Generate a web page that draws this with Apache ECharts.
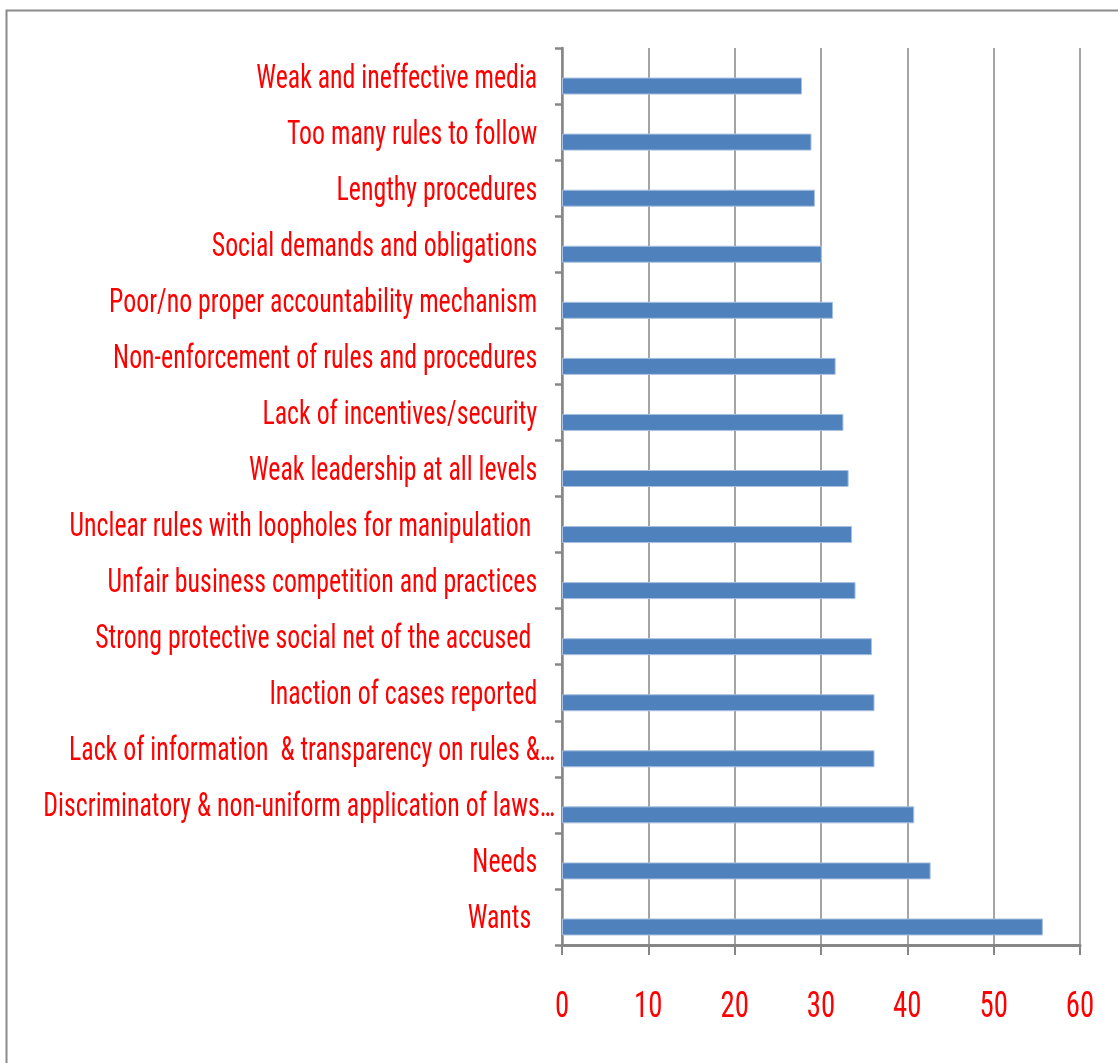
<!DOCTYPE html>
<html>
<head>
<meta charset="utf-8">
<script src="https://cdn.jsdelivr.net/npm/echarts@6/dist/echarts.min.js"></script>
<style>
html,body{margin:0;padding:0;background:#fff;}
#chart{width:1118px;height:1063px;}
</style>
</head>
<body>
<div id="chart"></div>
<script>
var categories = [
  'Weak and ineffective media   ',
  'Too many rules to follow   ',
  'Lengthy procedures   ',
  'Social demands and obligations   ',
  'Poor/no proper accountability mechanism   ',
  'Non-enforcement of rules and procedures   ',
  'Lack of incentives/security   ',
  'Weak leadership at all levels   ',
  'Unclear rules with loopholes for manipulation    ',
  'Unfair business competition and practices   ',
  'Strong protective social net of the accused    ',
  'Inaction of cases reported   ',
  'Lack of information  & transparency on rules &\u2026',
  'Discriminatory & non-uniform application of laws\u2026',
  'Needs   ',
  'Wants    '
];
var values = [27.8, 28.9, 29.3, 30.1, 31.4, 31.7, 32.6, 33.2, 33.6, 34.0, 35.9, 36.2, 36.2, 40.8, 42.7, 55.7];
var xTicks = [0, 10, 20, 30, 40, 50, 60];

var FONT = '"Liberation Sans Narrow", "Arial Narrow", "Roboto Condensed", "Liberation Sans", sans-serif';
var chart = echarts.init(document.getElementById('chart'));
var gray = '#868686';

chart.setOption({
  animation: false,
  backgroundColor: '#ffffff',
  graphic: [{
    type: 'rect', left: 4, top: 8, silent: true,
    shape: {width: 1300, height: 1300},
    style: {fill: 'none', stroke: '#8a8a8a', lineWidth: 2}
  }],
  grid: {left: 562, right: 38, top: 48, bottom: 118, containLabel: false},
  xAxis: {
    type: 'value', min: xTicks[0], max: xTicks[xTicks.length - 1], interval: 10,
    axisLine: {show: true, onZero: false, lineStyle: {color: gray, width: 3}},
    axisTick: {show: true, length: 10, lineStyle: {color: gray, width: 2}},
    splitLine: {show: true, lineStyle: {color: gray, width: 1.5}},
    axisLabel: {show: false}
  },
  yAxis: {
    type: 'category', data: categories, inverse: true,
    axisLine: {show: true, lineStyle: {color: gray, width: 2.5}},
    axisTick: {show: true, length: 7, lineStyle: {color: gray, width: 2.5}},
    axisLabel: {show: false}
  },
  series: [{
    type: 'bar', name: 'Series 2', data: values.map(function(){ return null; }), barWidth: 17, barGap: '18%'
  }, {
    type: 'bar', name: 'Series 1', data: values, barWidth: 17, barGap: '18%',
    itemStyle: {color: '#4F81BD', borderColor: '#A9C1DF', borderWidth: 1}
  }, {
    type: 'custom', name: 'labels', silent: true, clip: false,
    encode: {x: 0, y: 1},
    data: categories.map(function(c, i){ return [0, i]; }),
    renderItem: function(params, api){
      var p = api.coord([0, api.value(1)]);
      return {
        type: 'text', x: p[0] - 7, y: p[1] + 3, scaleX: 0.76,
        style: {
          text: categories[params.dataIndex], fill: '#FF0000',
          fontFamily: FONT, fontSize: 34,
          align: 'right', verticalAlign: 'middle'
        }
      };
    }
  }, {
    type: 'custom', name: 'xlabels', silent: true, clip: false,
    encode: {x: 0},
    data: xTicks.map(function(t){ return [t]; }),
    renderItem: function(params, api){
      var p = api.coord([api.value(0), 0]);
      var base = api.coord([0, categories.length - 1]);
      var h = api.size([0, 1])[1];
      return {
        type: 'text', x: p[0], y: base[1] + h / 2 + 63, scaleX: 0.8,
        style: {
          text: String(xTicks[params.dataIndex]), fill: '#FF0000',
          fontFamily: FONT, fontSize: 36,
          align: 'center', verticalAlign: 'middle'
        }
      };
    }
  }]
});
</script>
</body>
</html>
